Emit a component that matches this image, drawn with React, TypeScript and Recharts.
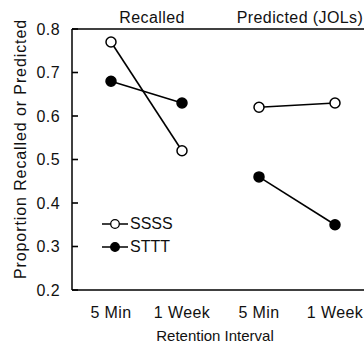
import React from "react";
import { LineChart, Line, XAxis, YAxis, ReferenceLine, Legend } from "recharts";

// retention interval categories and proportions per panel
const intervals = ["5 Min", "1 Week"];
const recalledSSSS = [0.77, 0.52];
const recalledSTTT = [0.68, 0.63];
const predictedSSSS = [0.62, 0.63];
const predictedSTTT = [0.46, 0.35];
const yTicks = [0.2, 0.3, 0.4, 0.5, 0.6, 0.7, 0.8];
const panelTitles = ["Recalled", "Predicted (JOLs)"];

const recalledData = intervals.map((name, i) => ({
  name,
  SSSS: recalledSSSS[i],
  STTT: recalledSTTT[i],
}));
const predictedData = intervals.map((name, i) => ({
  name,
  SSSS: predictedSSSS[i],
  STTT: predictedSTTT[i],
}));

const INK = "#111";
const FONT = '"Liberation Sans", Arial, sans-serif';
const tickStyle = { fill: INK, fontSize: 16, letterSpacing: 0.4 };

const openDot = { r: 5, fill: "#fff", stroke: "#000", strokeWidth: 1.5 };
const filledDot = { r: 5, fill: "#000", stroke: "#000", strokeWidth: 1.5 };

const legendItems = [
  { label: "SSSS", fill: "#fff" },
  { label: "STTT", fill: "#000" },
];

// y tick: x arrives on the axis line (tickSize/tickMargin 0); label to the left, mark pointing inward
const YTick = (props: any) => {
  const { x, y, payload } = props;
  return (
    <g>
      <line x1={x} y1={y} x2={x + 6} y2={y} stroke="#000" strokeWidth={1.6} />
      <text x={x - 12} y={y} dy="0.355em" textAnchor="end" fill={INK} fontSize={16} letterSpacing={0.4}>
        {Number(payload.value).toFixed(1)}
      </text>
    </g>
  );
};

const LegendBox = () => (
  <div style={{ display: "flex", flexDirection: "column" }}>
    {legendItems.map((it) => (
      <div key={it.label} style={{ display: "flex", alignItems: "center", height: 23 }}>
        <svg width={26} height={12}>
          <line x1={0} y1={6} x2={26} y2={6} stroke="#000" strokeWidth={1.5} />
          <circle cx={13} cy={6} r={4.3} fill={it.fill} stroke="#000" strokeWidth={1.3} />
        </svg>
        <span style={{ marginLeft: 2, fontSize: 16, color: INK }}>{it.label}</span>
      </div>
    ))}
  </div>
);

const series = (
  <>
    <Line dataKey="SSSS" stroke="#000" strokeWidth={1.6} dot={openDot} isAnimationActive={false} />
    <Line dataKey="STTT" stroke="#000" strokeWidth={1.6} dot={filledDot} isAnimationActive={false} />
  </>
);

export default function App() {
  return (
    <div
      style={{
        position: "absolute",
        left: 0,
        top: 0,
        width: 364,
        height: 345,
        background: "#fff",
        fontFamily: FONT,
        color: INK,
        overflow: "hidden",
      }}
    >
      <div style={{ position: "absolute", left: 0, top: 0 }}>
        <LineChart width={223} height={345} data={recalledData} margin={{ top: 29, right: 1, bottom: 25, left: 0 }}>
          <XAxis
            dataKey="name"
            height={30}
            padding={{ left: 39, right: 40 }}
            axisLine={{ stroke: "#000", strokeWidth: 1.5 }}
            tickLine={false}
            tickMargin={11}
            tick={tickStyle}
          />
          <YAxis
            width={72}
            domain={[0.2, 0.8]}
            ticks={yTicks}
            axisLine={{ stroke: "#000", strokeWidth: 1.5 }}
            tickLine={false}
            tickSize={0}
            tickMargin={0}
            tick={<YTick />}
          />
          <ReferenceLine
            y={0.8}
            stroke="#000"
            strokeWidth={1.5}
            label={{ value: panelTitles[0], position: "top", offset: 6, dx: 5, fill: INK, fontSize: 16, letterSpacing: 0.4 }}
          />
          <Legend
            layout="horizontal"
            verticalAlign="middle"
            align="center"
            content={() => <LegendBox />}
            wrapperStyle={{ left: 102, top: 212, width: 90 }}
          />
          {series}
        </LineChart>
      </div>
      <div style={{ position: "absolute", left: 222, top: 0 }}>
        <LineChart width={142} height={345} data={predictedData} margin={{ top: 29, right: 0, bottom: 25, left: 0 }}>
          <XAxis
            dataKey="name"
            height={30}
            padding={{ left: 37, right: 29 }}
            axisLine={{ stroke: "#000", strokeWidth: 1.5 }}
            tickLine={false}
            tickMargin={11}
            tick={tickStyle}
          />
          <YAxis
            width={0}
            domain={[0.2, 0.8]}
            ticks={yTicks}
            axisLine={{ stroke: "#000", strokeWidth: 1.5 }}
            tickLine={false}
            tick={false}
          />
          <ReferenceLine
            y={0.8}
            stroke="#000"
            strokeWidth={1.5}
            label={{ value: panelTitles[1], position: "top", offset: 6, dx: 7, fill: INK, fontSize: 16, letterSpacing: 0.4 }}
          />
          {series}
        </LineChart>
      </div>
      <div
        style={{
          position: "absolute",
          left: 21,
          top: 149,
          transform: "translate(-50%, -50%) rotate(-90deg)",
          whiteSpace: "nowrap",
          fontSize: 16,
          letterSpacing: 0.9,
          lineHeight: 1,
        }}
      >
        Proportion Recalled or Predicted
      </div>
      <div
        style={{
          position: "absolute",
          left: 215,
          top: 335,
          transform: "translate(-50%, -50%)",
          whiteSpace: "nowrap",
          fontSize: 15,
          lineHeight: 1,
        }}
      >
        Retention Interval
      </div>
    </div>
  );
}
